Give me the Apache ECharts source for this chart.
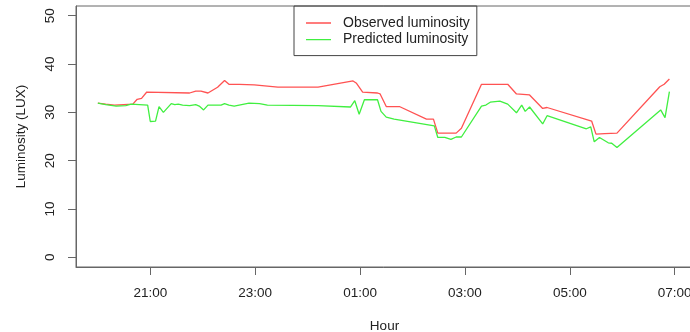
<!DOCTYPE html>
<html>
<head>
<meta charset="utf-8">
<script src="https://cdn.jsdelivr.net/npm/echarts@6/dist/echarts.min.js"></script>
<style>
    html, body { margin: 0; padding: 0; background: #fff; }
    #cn { width: 690px; height: 332px; }
</style>
</head>
<body>
<div id="cn"></div>
<script>
'use strict';

// minutes after 20:00
const obsTime = [0, 9, 19, 40, 45, 50, 56, 105, 112, 118, 126, 137, 145, 150, 162, 179, 206, 252, 292, 296, 303, 320, 323, 330, 345,
    376, 384, 389, 410, 416, 439, 469, 479, 494, 509, 514, 565, 570, 580, 594, 643, 648, 654];
const obsLux = [31.9, 31.7, 31.5, 31.7, 32.7, 32.9, 34.2, 34.0, 34.4, 34.4, 34.0, 35.2, 36.6, 35.8, 35.8, 35.7, 35.2, 35.2, 36.5, 36.0, 34.2, 34.0, 33.8, 31.2, 31.2,
    28.6, 28.6, 25.7, 25.7, 26.7, 35.8, 35.8, 33.8, 33.6, 30.8, 31.0, 28.2, 25.5, 25.6, 25.7, 35.3, 35.8, 36.9];

const predTime = [0, 9, 21, 32, 38, 57, 60, 66, 70, 75, 84, 88, 92, 97, 105, 112, 116, 121, 126, 141, 145, 150, 156, 173, 185, 194,
    252, 289, 294, 299, 305, 320, 324, 330, 339, 385, 389, 397, 404, 410, 416, 439, 444, 449, 460, 469, 479, 485, 489, 494,
    509, 514, 559, 564, 568, 574, 584, 588, 594, 644, 649, 654];
const predLux = [31.9, 31.6, 31.3, 31.4, 31.7, 31.5, 28.1, 28.2, 31.2, 30.0, 31.8, 31.6, 31.7, 31.5, 31.4, 31.6, 31.3, 30.5, 31.5, 31.5, 31.8, 31.5, 31.3, 31.9, 31.8, 31.5,
    31.4, 31.1, 32.4, 29.6, 32.6, 32.6, 30.2, 29.0, 28.6, 27.2, 24.8, 24.8, 24.4, 24.9, 24.9, 31.3, 31.5, 32.1, 32.3, 31.7, 29.9, 31.5, 30.2, 31.1,
    27.6, 29.3, 26.6, 27.0, 23.9, 24.8, 23.7, 23.6, 22.7, 30.5, 28.9, 34.3];

const hourTicks = [60, 180, 300, 420, 540, 660];
const luxTicks = [0, 10, 20, 30, 40, 50];

const fmtHour = v => {
    const h = (20 + Math.floor(v / 60)) % 24;
    return (h < 10 ? '0' : '') + h + ':00';
};

const FONT = '"Liberation Sans", Arial, sans-serif';
const AXIS = '#666';
const TXT = '#222';

function _zip(a, b) {
    return a.map((v, i) => [v, b[i]]);
}

const chart = echarts.init(document.getElementById('cn'));

const option = {
    animation: false,
    textStyle: { fontFamily: FONT },
    grid: {
        left: 76,
        top: 6,
        right: -3,
        bottom: 65,
        outerBoundsMode: 'none',
        containLabel: false,
        show: true,
        borderColor: AXIS,
        borderWidth: 1
    },
    legend: {
        orient: 'vertical',
        left: 294,
        top: 6,
        padding: [10, 7, 9, 12],
        borderColor: '#444',
        borderWidth: 1,
        // 25px line inside a 32px-wide box (legend text gap is fixed at 5px)
        icon: 'path://M0,6.35H25V7.65H0Z M0,0L0,0Z M32,14L32,14Z',
        itemWidth: 32,
        itemHeight: 14,
        itemGap: 2.6,
        textStyle: { fontSize: 14, color: TXT, fontFamily: FONT },
        data: ['Observed luminosity', 'Predicted luminosity']
    },
    xAxis: {
        type: 'value',
        min: -25,
        max: 681,
        name: 'Hour',
        nameLocation: 'middle',
        nameGap: 52,
        nameTextStyle: { fontSize: 13.5, color: TXT },
        axisLine: { show: true, onZero: false, lineStyle: { color: AXIS } },
        axisTick: { show: true, length: 8, customValues: hourTicks, lineStyle: { color: AXIS } },
        axisLabel: { customValues: hourTicks, formatter: fmtHour, margin: 19, fontSize: 13.5, color: TXT },
        splitLine: { show: false }
    },
    yAxis: {
        type: 'value',
        min: -2,
        max: 52,
        name: 'Luminosity (LUX)',
        nameLocation: 'middle',
        nameGap: 48,
        nameTextStyle: { fontSize: 13.5, color: TXT },
        axisLine: { show: true, onZero: false, lineStyle: { color: AXIS } },
        axisTick: { show: true, length: 8, customValues: luxTicks, lineStyle: { color: AXIS } },
        axisLabel: { customValues: luxTicks, rotate: 90, margin: 19, fontSize: 13.5, color: TXT },
        splitLine: { show: false }
    },
    series: [
        {
            name: 'Observed luminosity',
            type: 'line',
            symbol: 'none',
            data: _zip(obsTime, obsLux),
            lineStyle: { color: '#ff5252', width: 1.3 },
            itemStyle: { color: '#ff5252' }
        },
        {
            name: 'Predicted luminosity',
            type: 'line',
            symbol: 'none',
            data: _zip(predTime, predLux),
            lineStyle: { color: '#40ef40', width: 1.3 },
            itemStyle: { color: '#40ef40' }
        }
    ]
};

chart.setOption(option);
</script>
</body>
</html>
